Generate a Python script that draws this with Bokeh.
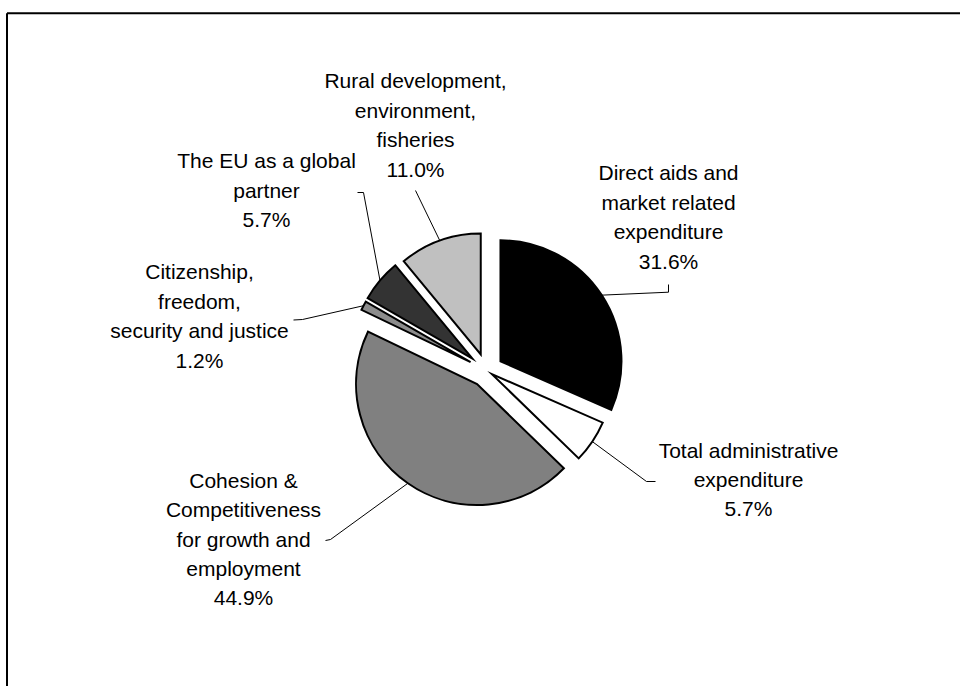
import math
from bokeh.plotting import figure
from bokeh.models import Range1d, ColumnDataSource
from bokeh.embed import file_html
from bokeh.resources import INLINE
from bokeh.core.properties import value

# ---- data ----
categories = [
    "Direct aids and\nmarket related\nexpenditure",
    "Total administrative\nexpenditure",
    "Cohesion &\nCompetitiveness\nfor growth and\nemployment",
    "Citizenship,\nfreedom,\nsecurity and justice",
    "The EU as a global\npartner",
    "Rural development,\nenvironment,\nfisheries",
]
shares = [31.6, 5.7, 44.9, 1.2, 5.7, 11.0]

# ---- style / layout ----
colors = ["#000000", "#ffffff", "#808080", "#8c8c8c", "#333333", "#c0c0c0"]
explode = [16.7, 6.5, 16.5, 18.0, 18.4, 17.0]
CX, CY = 486.0, 370.0          # page px
R = 121.0
label_pos = [(668, 216.5), (748, 479), (243, 538.5), (199, 315.5), (266, 189.5), (415, 124.5)]
leader_pts = [((668, 291.7), (668, 284)), ((646, 481), (655, 481)),
              ((330, 539), (325, 540)), ((302, 319), (293, 319.5)),
              ((363, 192), (357, 192)), ((415, 190), (415, 190))]
LINE_SP = 29.4
FONT = value("Liberation Sans")

W, H = 960, 686
p = figure(width=W, height=H, x_range=Range1d(0, W), y_range=Range1d(-H, 0),
           output_backend="svg", toolbar_location=None, min_border=0,
           x_axis_location=None, y_axis_location=None)
p.outline_line_color = None
p.outline_line_alpha = 0
p.grid.visible = False
p.background_fill_color = "white"
p.border_fill_color = "white"

total = sum(shares)
cum = 0.0
wx, wy, a0, a1, lxs, lys = [], [], [], [], [], []
for i, v in enumerate(shares):
    start = math.radians(90 - 360 * cum / total)
    cum += v
    end = math.radians(90 - 360 * cum / total)
    mid = (start + end) / 2
    cx = CX + explode[i] * math.cos(mid)
    cy = -CY + explode[i] * math.sin(mid)
    wx.append(cx); wy.append(cy)
    a0.append(end); a1.append(start)
    sx = cx + R * math.cos(mid)
    sy = cy + R * math.sin(mid)
    (ex, ey), (fx, fy) = leader_pts[i]
    lxs.append([sx, ex, fx]); lys.append([sy, -ey, -fy])

src = ColumnDataSource(dict(x=wx, y=wy, a0=a0, a1=a1, color=colors))
p.wedge(x="x", y="y", radius=R, start_angle="a0", end_angle="a1", fill_color="color",
        line_color="black", line_width=2, line_join="miter", source=src)

p.multi_line(xs=lxs, ys=lys, line_color="black", line_width=1)

tx, ty, tt = [], [], []
for i, name in enumerate(categories):
    lines = name.split("\n") + [f"{shares[i]:.1f}%"]
    n = len(lines)
    lx, ly = label_pos[i]
    for k, s in enumerate(lines):
        tx.append(lx)
        ty.append(-(ly + (k - (n - 1) / 2) * LINE_SP))
        tt.append(s)
p.text(x=tx, y=ty, text=tt, text_align="center", text_baseline="middle",
       text_font=FONT, text_font_size="21px", text_color="black")

# chart frame (top and left edges visible)
p.segment(x0=[6.5, 6.5], y0=[-12.7, -12.7], x1=[W + 5, 6.5], y1=[-12.7, -(H + 5)],
          line_color="black", line_width=2)

open("out.html", "w").write(file_html(p, INLINE))
